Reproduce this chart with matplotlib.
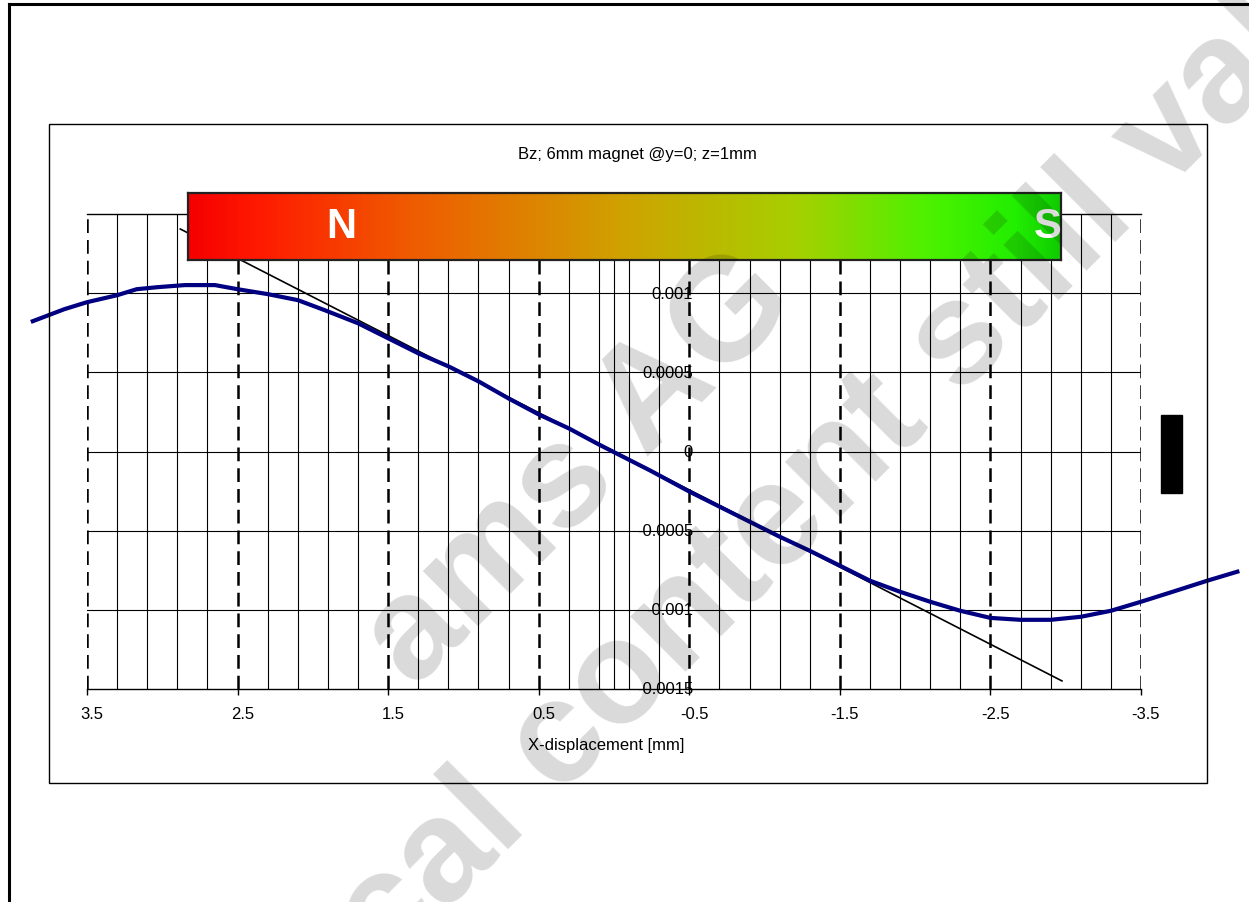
import numpy as np
import matplotlib
matplotlib.use("Agg")
import matplotlib.pyplot as plt
from matplotlib.colors import LinearSegmentedColormap
from matplotlib.patches import Rectangle
from matplotlib.transforms import ScaledTranslation

plt.rcParams['font.family'] = ['Liberation Sans', 'DejaVu Sans']

pos_mm = [3.86, 3.65, 3.5, 3.3, 3.17, 3.03, 2.85, 2.65, 2.5, 2.3, 2.1, 1.92, 1.7, 1.5,
          1.3, 1.1, 0.9, 0.7, 0.5, 0.3, 0.1, -0.24, -0.5, -0.7, -0.9, -1.1, -1.3, -1.5,
          -1.7, -1.9, -2.1, -2.3, -2.5, -2.7, -2.9, -3.1, -3.3, -3.5, -3.71, -3.94, -4.14]
bz = [0.823, 0.899, 0.943, 0.987, 1.025, 1.038, 1.051, 1.051, 1.025, 0.994, 0.956, 0.892,
      0.810, 0.715, 0.620, 0.538, 0.443, 0.335, 0.234, 0.146, 0.044, -0.120, -0.253,
      -0.348, -0.443, -0.538, -0.627, -0.721, -0.816, -0.886, -0.949, -1.006, -1.051,
      -1.063, -1.063, -1.044, -1.006, -0.949, -0.886, -0.816, -0.759]
bz = [v * 1e-3 for v in bz]

# linear trend line end points
fit_x = [2.88, -2.975]
fit_y = [0.001405, -0.001449]

x_ticks = [3.5, 2.5, 1.5, 0.5, -0.5, -1.5, -2.5, -3.5]
x_labels = ["3.5", "2.5", "1.5", "0.5", "-0.5", "-1.5", "-2.5", "-3.5"]
minor_x = [3.3, 3.1, 2.9, 2.7, 2.3, 2.1, 1.9, 1.7, 1.3, 1.1, 0.9, 0.7, 0.3, 0.1, 0.0,
           -0.1, -0.3, -0.7, -0.9, -1.1, -1.3, -1.7, -1.9, -2.1, -2.3, -2.7, -2.9,
           -3.1, -3.3]
y_ticks = [0.0015, 0.001, 0.0005, 0, -0.0005, -0.001, -0.0015]
y_labels = ["0.0015", "0.001", "0.0005", "0", "-0.0005", "-0.001", "-0.0015"]

W, H = 1249, 903
fig = plt.figure(figsize=(W / 100, H / 100), dpi=100)


def fx(px):
    return px / W


def fy(py):
    return 1 - py / H


# outer frame and chart area box
fig.add_artist(plt.Line2D([fx(9), fx(9)], [fy(5), 0], color="black", lw=2.2))
fig.add_artist(plt.Line2D([fx(9), 1], [fy(5), fy(5)], color="black", lw=2.2))
fig.add_artist(Rectangle((fx(49), fy(784)), fx(1207 - 49), (784 - 125) / H,
                         fill=False, ec="black", lw=1.0))

ax = fig.add_axes([fx(87), fy(690), fx(1141 - 87), (690 - 215) / H])
ax.set_xlim(3.5, -3.5)
ax.set_ylim(-0.0015, 0.0015)
for s in ["left", "right"]:
    ax.spines[s].set_visible(False)
for s in ["top", "bottom"]:
    ax.spines[s].set_linewidth(1.0)

for v in minor_x:
    ax.axvline(v, color="black", lw=0.8, zorder=1)
for v in x_ticks:
    ax.axvline(v, color="black", lw=1.8, dashes=(5.5, 2.8), zorder=2)
for v in y_ticks[1:-1]:
    ax.axhline(v, color="black", lw=0.8, zorder=1)

ax.set_xticks(x_ticks)
ax.set_xticklabels(x_labels, fontsize=12)
ax.tick_params(axis="x", direction="out", length=4, width=1, pad=8)
for lab in ax.get_xticklabels():
    lab.set_transform(lab.get_transform() + ScaledTranslation(0.05, 0, fig.dpi_scale_trans))
ax.set_yticks([])

for v, t in zip(y_ticks, y_labels):
    ax.text(-0.525, v, t, ha="right", va="center", fontsize=12, zorder=3)

ax.plot(fit_x, fit_y, color="black", lw=1.2, zorder=4, clip_on=False)
ax.plot(pos_mm, bz, color="#000080", lw=3, zorder=5, clip_on=False,
        solid_joinstyle="round")

fig.text(fx(637), fy(154), "Bz; 6mm magnet @y=0; z=1mm", ha="center", va="center",
         fontsize=12)
fig.text(fx(606), fy(746), "X-displacement [mm]", ha="center", va="center", fontsize=12)

# magnet bar
cmap = LinearSegmentedColormap.from_list(
    "ns", [(0.0, "#f50000"), (0.08, "#ff1a00"), (0.25, "#f05a00"), (0.5, "#cfa300"),
           (0.7, "#a6d000"), (0.85, "#4cf200"), (0.95, "#22ee00"), (1.0, "#10cc00")])
bar = fig.add_axes([fx(188), fy(261), fx(1061 - 188), (261 - 194) / H], zorder=10)
bar.imshow(np.linspace(0, 1, 256)[None, :], aspect="auto", cmap=cmap,
           extent=[0, 1, 0, 1])
bar.set_xticks([])
bar.set_yticks([])
for s in bar.spines.values():
    s.set_linewidth(1.6)
    s.set_color("#222222")
bar.text(0.175, 0.5, "N", color="white", fontsize=30, fontweight="bold",
         ha="center", va="center", transform=bar.transAxes)
bar.text(0.985, 0.5, "S", color="white", fontsize=30, fontweight="bold",
         ha="center", va="center", transform=bar.transAxes)

fig.add_artist(Rectangle((fx(1161), fy(494)), fx(21), 78 / H, color="black"))

# watermark
fig.text(fx(580), fy(470), "ams AG", rotation=45, rotation_mode="anchor",
         ha="center", va="center", fontsize=105, fontweight="bold",
         color="black", alpha=0.15, zorder=20)
fig.text(fx(715), fy(588), "technical content still valid", rotation=45,
         rotation_mode="anchor", ha="center", va="center", fontsize=105,
         fontweight="bold", color="black", alpha=0.15, zorder=20)

fig.savefig("out.png", dpi=100)
